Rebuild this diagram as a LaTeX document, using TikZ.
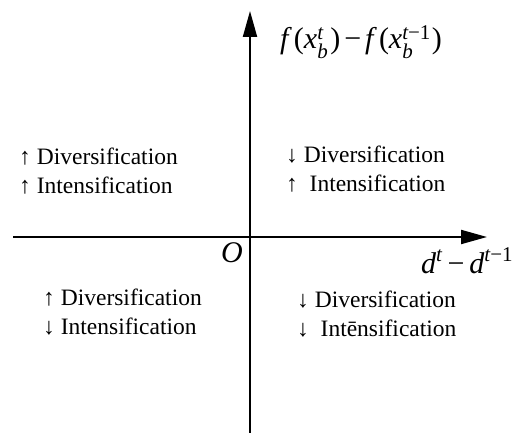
\documentclass[tikz,border=0pt]{standalone}
\usepackage{amsmath}
\usepackage{fontspec}
\setmainfont{Liberation Serif}
\usetikzlibrary{arrows.meta}
\newcommand{\xsb}[2]{$\textit{x}^{#1}_{\textit{#2}}$}
\tikzset{
  axis/.style={line width=2pt, -{Triangle[length=26pt,width=14pt]}},
  quad/.style={anchor=base west, inner sep=0pt, font=\fontsize{23.5}{28}\selectfont},
  lab/.style={inner sep=0pt, font=\fontsize{30}{32}\selectfont}
}
\begin{document}
\begin{tikzpicture}[x=1pt,y=-1pt]
\useasboundingbox (0,0) rectangle (512,435);
\coordinate (xs) at (13,237);
\coordinate (xe) at (487,237);
\coordinate (ys) at (250,433);
\coordinate (ye) at (250,11);
\draw[axis] (xs) -- (xe);
\draw[axis] (ys) -- (ye);
\node[lab, anchor=base west] (fl) at (280,49) {\textit{f}\kern2pt(\xsb{\textit{t}}{b}\kern2pt)\kern4pt−\kern4pt\textit{f}\kern2pt(\xsb{\textit{t}\text{−1}}{b}\kern1pt)};
\node[lab, anchor=base east] (o) at (243,263) {\textit{O}};
\node[lab, anchor=base west] (dl) at (421,274) {$\textit{d}^{\textit{t}}$\,−\,$\textit{d}^{\textit{t}\text{−1}}$};
\node[quad] (a1) at (19,165) {↑ Diversification};
\node[quad] (a2) at (19,194) {↑ Intensification};
\node[quad] (b1) at (286,163) {↓ Diversification};
\node[quad] (b2) at (286,192) {↑\ \ Intensification};
\node[quad] (c1) at (43,306) {↑ Diversification};
\node[quad] (c2) at (43,335) {↓ Intensification};
\node[quad] (d1) at (297,308) {↓ Diversification};
\node[quad] (d2) at (297,337) {↓\ \ Intēnsification};
\end{tikzpicture}
\end{document}
